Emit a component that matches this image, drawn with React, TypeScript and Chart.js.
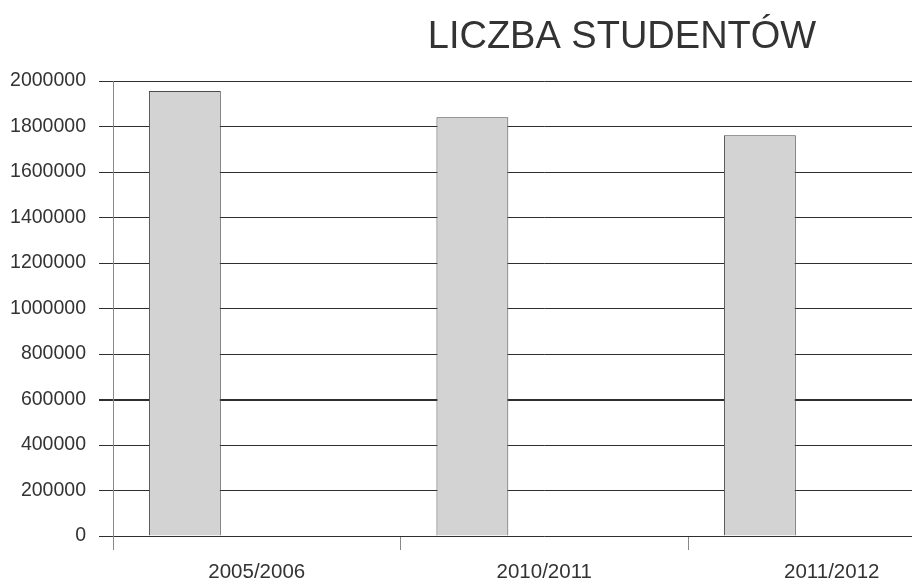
import React, { useEffect, useRef } from "react";
import { Chart, registerables } from "chart.js";

Chart.register(...registerables);

const chartTitle = "LICZBA STUDENTÓW";
const categories = ["2005/2006", "2010/2011", "2011/2012"];
const studentCounts = [1956000, 1841000, 1762000];
const emptySeriesA: (number | null)[] = [null, null, null];
const emptySeriesB: (number | null)[] = [null, null, null];
const yMin = 0;
const yMax = 2000000;
const yStep = 200000;
const emphasisedGridValue = 600000;

const FONT = "'Liberation Sans', Arial, sans-serif";
const CANVAS_W = 990;
const CANVAS_H = 580;

const titlePlugin = {
  id: "customTitle",
  afterDraw(chart: any) {
    const { ctx } = chart;
    ctx.save();
    ctx.font = `38px ${FONT}`;
    ctx.fillStyle = "#333333";
    ctx.textAlign = "center";
    ctx.textBaseline = "alphabetic";
    ctx.fillText(chartTitle, 622, 48);
    ctx.restore();
  },
};

export default function App() {
  const ref = useRef<HTMLCanvasElement | null>(null);

  useEffect(() => {
    if (!ref.current) return;
    const chart = new Chart(ref.current, {
      type: "bar",
      data: {
        labels: categories,
        datasets: [
          {
            data: studentCounts,
            backgroundColor: "#d3d3d3",
            borderColor: "#4a4a4a",
            borderWidth: 1,
          },
          { data: emptySeriesA as any, backgroundColor: "#d3d3d3" },
          { data: emptySeriesB as any, backgroundColor: "#d3d3d3" },
        ],
      },
      plugins: [titlePlugin],
      options: {
        responsive: false,
        animation: false,
        devicePixelRatio: 1,
        layout: { padding: { top: 81, left: 0, right: 14.5, bottom: 0 } },
        datasets: {
          bar: { categoryPercentage: 0.75, barPercentage: 1 },
        },
        plugins: {
          legend: { display: false },
          title: { display: false },
          tooltip: { enabled: false },
        },
        scales: {
          x: {
            afterFit(scale: any) {
              scale.height = 44;
            },
            grid: {
              offset: true,
              drawOnChartArea: false,
              drawTicks: true,
              tickLength: 14,
              color: "#888888",
              lineWidth: 1,
            },
            border: { display: false },
            ticks: {
              color: "#333333",
              font: { family: FONT, size: 20.5 },
              padding: 10,
              maxRotation: 0,
            },
          },
          y: {
            min: yMin,
            max: yMax,
            afterFit(scale: any) {
              scale.width = 113;
            },
            grid: {
              color: "#2e2e2e",
              tickColor: "#2e2e2e",
              tickLength: 14,
              lineWidth: (ctx: any) =>
                ctx.tick && ctx.tick.value === emphasisedGridValue ? 2 : 1,
            },
            border: { display: true, color: "#888888", width: 1 },
            ticks: {
              stepSize: yStep,
              color: "#333333",
              font: { family: FONT, size: 19.5 },
              padding: 13,
              callback: (v: any) => String(v),
            },
          },
        },
      },
    });
    return () => chart.destroy();
  }, []);

  return (
    <div
      style={{
        position: "fixed",
        left: 0,
        top: 0,
        width: 912,
        height: 580,
        overflow: "hidden",
        background: "#ffffff",
      }}
    >
      <canvas
        ref={ref}
        width={CANVAS_W}
        height={CANVAS_H}
        style={{ width: CANVAS_W, height: CANVAS_H, display: "block" }}
      />
    </div>
  );
}
